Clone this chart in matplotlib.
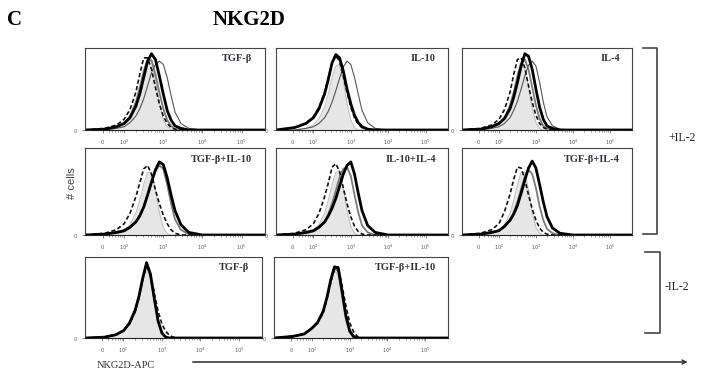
import matplotlib
matplotlib.use("Agg")
import matplotlib.pyplot as plt
import numpy as np
from matplotlib.lines import Line2D

# channel positions (decades on the display scale: 0.45 = 0, 1 = 10^2 ... 4 = 10^5)
CH = [0.0, 0.5, 0.8, 1.0, 1.15, 1.3, 1.4, 1.5, 1.6, 1.7,
      1.8, 1.9, 2.0, 2.1, 2.2, 2.3, 2.45, 2.65, 3.0, 4.6]

# normalised event counts per channel, one list per histogram overlay
# +IL-2 row 1
tgfb_iso = [0, 0, .02, .06, .14, .30, .48, .70, .86, .86, .62, .34, .12, .04, .01, 0, 0, 0, 0, 0]
tgfb_dash = [0, .02, .06, .13, .25, .46, .68, .88, .88, .74, .52, .32, .17, .08, .03, .01, 0, 0, 0, 0]
tgfb_gray = [0, .01, .03, .08, .17, .34, .52, .72, .86, .85, .68, .46, .26, .12, .05, .01, 0, 0, 0, 0]
tgfb_black = [0, .01, .04, .08, .15, .29, .44, .64, .84, .93, .86, .66, .44, .24, .12, .05, .02, 0, 0, 0]
tgfb_thin = [0, 0, .02, .04, .09, .17, .26, .38, .54, .70, .80, .84, .80, .64, .42, .22, .08, .02, 0, 0]

il10_iso = [0, 0, .02, .06, .14, .28, .44, .64, .78, .80, .60, .32, .12, .03, 0, 0, 0, 0, 0, 0]
il10_dash = [0, .03, .08, .16, .28, .46, .64, .82, .90, .84, .66, .46, .28, .15, .07, .03, .01, 0, 0, 0]
il10_black = [0, .03, .08, .15, .26, .44, .62, .82, .92, .88, .72, .50, .32, .18, .09, .04, .01, 0, 0, 0]
il10_thin = [0, 0, .02, .04, .08, .15, .23, .34, .48, .63, .77, .84, .80, .64, .44, .24, .09, .02, 0, 0]

il4_iso = [0, 0, .02, .06, .14, .28, .45, .66, .80, .76, .52, .26, .09, .02, 0, 0, 0, 0, 0, 0]
il4_dash = [0, .02, .06, .13, .25, .46, .68, .86, .88, .76, .54, .34, .18, .08, .03, .01, 0, 0, 0, 0]
il4_gray = [0, .01, .03, .07, .15, .30, .46, .66, .82, .86, .74, .52, .30, .14, .05, .02, 0, 0, 0, 0]
il4_black = [0, .01, .04, .08, .14, .26, .40, .58, .78, .93, .90, .74, .50, .28, .13, .05, .02, 0, 0, 0]
il4_thin = [0, 0, .02, .04, .08, .15, .24, .35, .50, .66, .79, .84, .78, .58, .34, .16, .05, .01, 0, 0]

# +IL-2 row 2
tgfb_il10_iso = [0, 0, .02, .05, .12, .25, .40, .58, .72, .72, .52, .26, .09, .02, 0, 0, 0, 0, 0, 0]
tgfb_il10_dash = [0, .02, .06, .13, .25, .44, .60, .76, .80, .70, .52, .36, .23, .13, .06, .02, 0, 0, 0, 0]
tgfb_il10_gray = [0, .01, .02, .04, .08, .15, .22, .33, .46, .61, .73, .80, .76, .58, .36, .18, .06, .01, 0, 0]
tgfb_il10_black = [0, .01, .03, .05, .09, .15, .22, .32, .46, .61, .75, .84, .81, .66, .46, .28, .12, .03, 0, 0]

il10_il4_iso = [0, 0, .02, .05, .12, .25, .40, .58, .72, .74, .54, .28, .10, .02, 0, 0, 0, 0, 0, 0]
il10_il4_dash = [0, .02, .06, .13, .25, .44, .60, .78, .82, .73, .54, .36, .21, .10, .04, .01, 0, 0, 0, 0]
il10_il4_gray = [0, .01, .02, .04, .08, .15, .24, .36, .51, .66, .76, .78, .68, .46, .26, .11, .03, 0, 0, 0]
il10_il4_black = [0, .01, .03, .05, .09, .15, .22, .31, .42, .56, .70, .80, .84, .70, .48, .28, .11, .03, 0, 0]

tgfb_il4_iso = [0, 0, .02, .05, .12, .25, .40, .58, .72, .72, .52, .26, .09, .02, 0, 0, 0, 0, 0, 0]
tgfb_il4_dash = [0, .02, .06, .13, .27, .47, .64, .78, .77, .64, .46, .30, .17, .08, .03, .01, 0, 0, 0, 0]
tgfb_il4_gray = [0, .01, .02, .05, .09, .17, .26, .38, .53, .67, .75, .70, .54, .33, .17, .07, .02, 0, 0, 0]
tgfb_il4_black = [0, .01, .03, .05, .10, .17, .24, .34, .48, .63, .77, .85, .77, .58, .38, .21, .08, .02, 0, 0]

# -IL-2 row
m_tgfb_iso = [0, .01, .04, .09, .17, .32, .49, .70, .86, .74, .44, .18, .05, .01, 0, 0, 0, 0, 0, 0]
m_tgfb_dash = [0, .01, .04, .09, .17, .32, .49, .72, .90, .80, .56, .33, .17, .08, .03, .01, 0, 0, 0, 0]
m_tgfb_gray = [0, .01, .04, .09, .17, .32, .50, .72, .90, .77, .47, .20, .06, .01, 0, 0, 0, 0, 0, 0]
m_tgfb_black = [0, .01, .04, .09, .18, .34, .51, .74, .93, .79, .49, .21, .06, .01, 0, 0, 0, 0, 0, 0]

m_tgfb_il10_iso = [0, .02, .05, .11, .18, .31, .46, .66, .84, .76, .46, .20, .06, .01, 0, 0, 0, 0, 0, 0]
m_tgfb_il10_dash = [0, .02, .05, .12, .18, .31, .48, .68, .86, .88, .64, .40, .19, .08, .02, 0, 0, 0, 0, 0]
m_tgfb_il10_gray = [0, .02, .05, .12, .19, .33, .50, .70, .86, .82, .54, .24, .07, .01, 0, 0, 0, 0, 0, 0]
m_tgfb_il10_black = [0, .02, .05, .12, .19, .33, .50, .72, .88, .86, .58, .28, .09, .02, 0, 0, 0, 0, 0, 0]

panel_labels = ["TGF-β", "IL-10", "IL-4",
                "TGF-β+IL-10", "IL-10+IL-4", "TGF-β+IL-4",
                "TGF-β", "TGF-β+IL-10"]

tick_pos = [0.45, 1.0, 2.0, 3.0, 4.0]
tick_lab = ["$0$", "$10^2$", "$10^3$", "$10^4$", "$10^5$"]

W, H = 713, 374


def fx(px):
    return px / W


def fy(py):
    return 1 - py / H


fig = plt.figure(figsize=(7.13, 3.74), dpi=100)

# (left, right) per column and (top, baseline) per row, in pixels
rows = [(48, 130), (148, 235), (257, 338)]
cols = [[(85, 265), (276, 448), (462, 632)],
        [(85, 265), (276, 448), (462, 632)],
        [(85, 262), (274, 448)]]

panels = [
    [(tgfb_iso, "iso"), (tgfb_gray, "gray"), (tgfb_thin, "thin"), (tgfb_dash, "dash"), (tgfb_black, "black")],
    [(il10_iso, "iso"), (il10_thin, "thin"), (il10_dash, "dash"), (il10_black, "black")],
    [(il4_iso, "iso"), (il4_gray, "gray"), (il4_thin, "thin"), (il4_dash, "dash"), (il4_black, "black")],
    [(tgfb_il10_iso, "iso"), (tgfb_il10_gray, "gray"), (tgfb_il10_dash, "dash"), (tgfb_il10_black, "black")],
    [(il10_il4_iso, "iso"), (il10_il4_gray, "gray"), (il10_il4_dash, "dash"), (il10_il4_black, "black")],
    [(tgfb_il4_iso, "iso"), (tgfb_il4_gray, "gray"), (tgfb_il4_dash, "dash"), (tgfb_il4_black, "black")],
    [(m_tgfb_iso, "iso"), (m_tgfb_gray, "gray"), (m_tgfb_dash, "dash"), (m_tgfb_black, "black")],
    [(m_tgfb_il10_iso, "iso"), (m_tgfb_il10_gray, "gray"), (m_tgfb_il10_dash, "dash"), (m_tgfb_il10_black, "black")],
]

styles = {
    "gray": dict(color="#7a7a7a", lw=1.3, ls="-"),
    "thin": dict(color="#555555", lw=0.8, ls="-"),
    "dash": dict(color="#111111", lw=1.2, ls=(0, (2.5, 1.5))),
    "black": dict(color="black", lw=2.0, ls="-"),
}

# minor ticks of the biexponential axis
minor = [np.log10(k) + d for d in range(0, 4) for k in range(2, 10)]

label_font = ["Liberation Serif", "DejaVu Serif"]

k = 0
for r, (top, base) in enumerate(rows):
    for c, (left, right) in enumerate(cols[r]):
        ax = fig.add_axes([fx(left), fy(base), fx(right - left), (base - top) / H])
        for vals, kind in panels[k]:
            if kind == "iso":
                ax.fill_between(CH, vals, color="#e6e6e6", lw=0)
                ax.plot(CH, vals, color="#bdbdbd", lw=0.7)
            else:
                ax.plot(CH, vals, **styles[kind])
        ax.set_xlim(0, 4.6)
        ax.set_ylim(0, 1)
        ax.set_xticks(tick_pos)
        ax.set_xticklabels(tick_lab, fontsize=3.5, color="#777777")
        ax.set_xticks([m for m in minor if m > 0.5], minor=True)
        ax.set_yticks([0])
        ax.set_yticklabels(["$0$"], fontsize=3.5, color="#777777")
        ax.tick_params(axis="both", which="major", length=2.5, width=0.5, pad=3, colors="#555555")
        ax.tick_params(axis="x", which="minor", length=1.2, width=0.4, colors="#555555")
        for sp in ax.spines.values():
            sp.set_linewidth(0.8)
            sp.set_color("#444444")
        ax.spines["bottom"].set_color("#222222")
        ax.text(0.93, 0.87, panel_labels[k], transform=ax.transAxes, ha="right", va="center",
                fontsize=7.5, fontweight="bold", color="#33333d", family=label_font)
        k += 1

# headings
fig.text(fx(7), fy(20), "C", fontsize=15, fontweight="bold", family="Liberation Serif", va="center")
fig.text(fx(249), fy(20), "NKG2D", fontsize=15, fontweight="bold", family="Liberation Serif",
         ha="center", va="center")

fig.text(fx(72), fy(183), "# cells", rotation=90, fontsize=8, color="#444444",
         family="Liberation Sans", ha="center", va="center")

fig.text(fx(97), fy(365), "NKG2D-APC", fontsize=7.5, color="#333333", family=label_font,
         ha="left", va="center")
fig.add_artist(plt.annotate("", xy=(fx(690), fy(362)), xytext=(fx(190), fy(362)),
                            xycoords="figure fraction", textcoords="figure fraction",
                            arrowprops=dict(arrowstyle="->", lw=0.8, color="#333333",
                                            mutation_scale=7)))


def bracket(x_in, x_out, y0, y1):
    xs = [fx(x_in), fx(x_out), fx(x_out), fx(x_in)]
    ys = [fy(y0), fy(y0), fy(y1), fy(y1)]
    fig.add_artist(Line2D(xs, ys, transform=fig.transFigure, color="#444444", lw=1.2))


bracket(643, 657, 48, 234)
bracket(645, 660, 252, 333)
fig.text(fx(668), fy(138), "+IL-2", fontsize=8.5, color="#222222", family=label_font, va="center")
fig.text(fx(665), fy(287), "-IL-2", fontsize=8.5, color="#222222", family=label_font, va="center")

fig.savefig("out.png", dpi=100)
